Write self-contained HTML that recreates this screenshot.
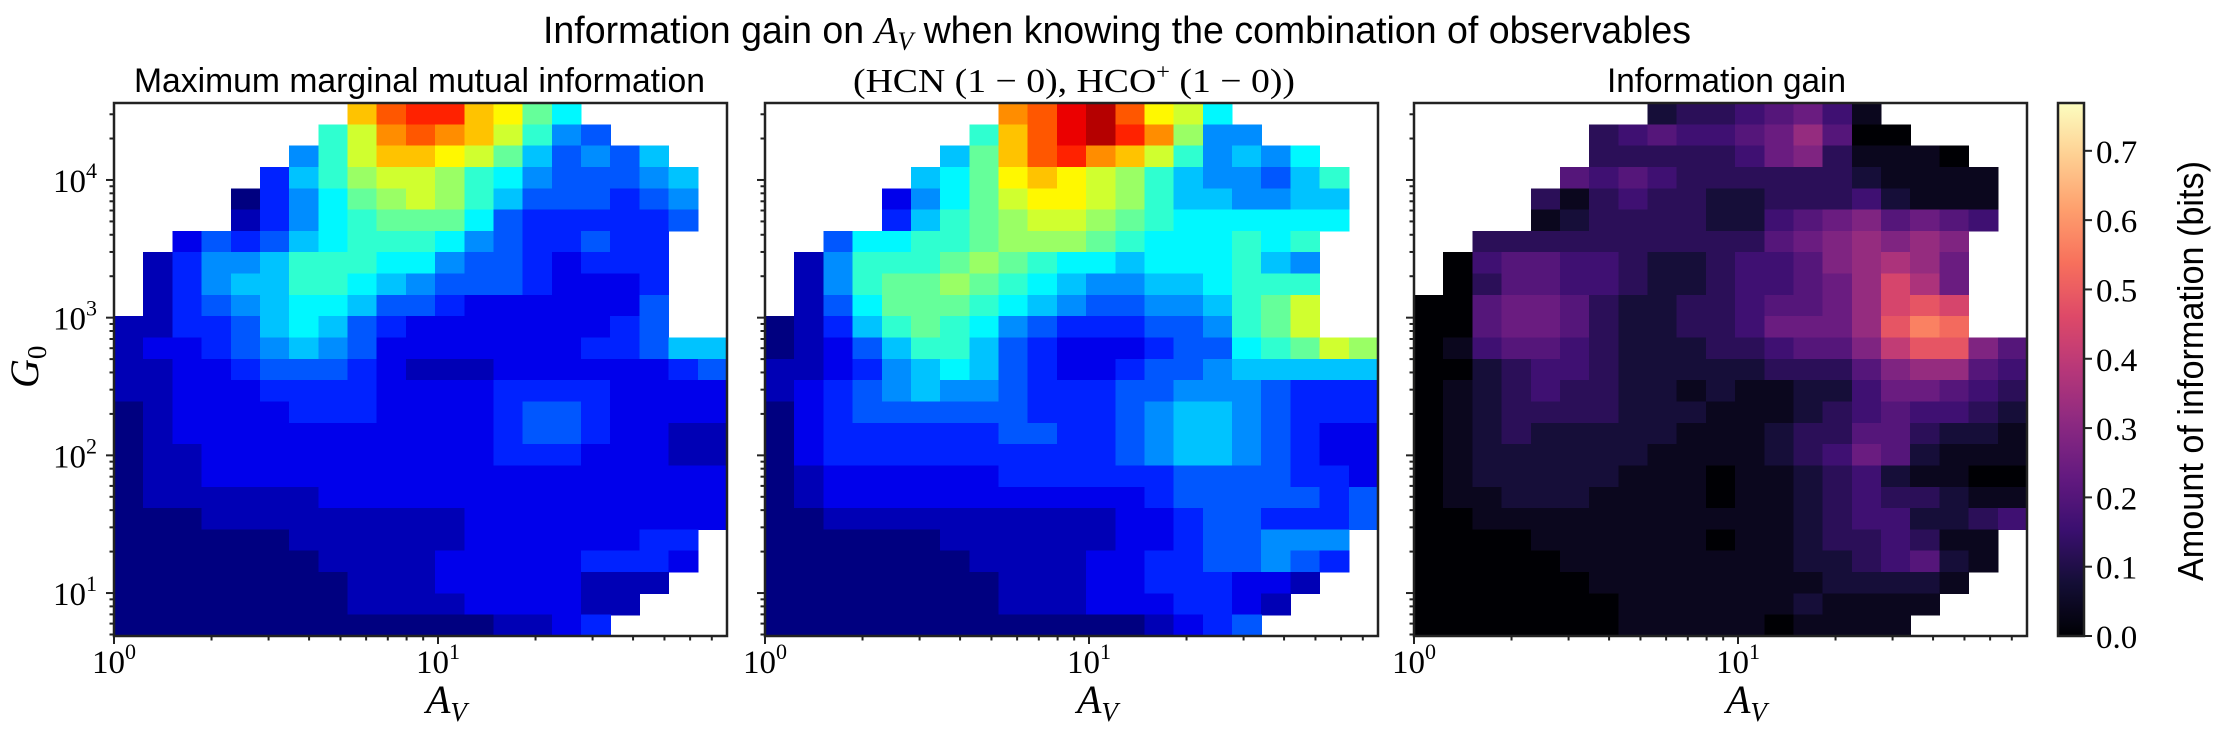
<!DOCTYPE html>
<html><head><meta charset="utf-8"><title>Information gain on A_V</title>
<style>
html,body{margin:0;padding:0;background:#fff;}
svg{display:block;}
.sans{font-family:"Liberation Sans",sans-serif;}
.serif{font-family:"Liberation Serif",serif;}
</style></head>
<body>
<svg id="fig" width="2224" height="737" viewBox="0 0 2224 737" xmlns="http://www.w3.org/2000/svg">
  <rect x="0" y="0" width="2224" height="737" fill="#fff"/>
  <text class="sans" x="543" y="43" font-size="38" textLength="1148" lengthAdjust="spacingAndGlyphs">Information gain on <tspan class="serif" font-style="italic">A</tspan><tspan class="serif" font-style="italic" font-size="26" dy="7">V</tspan><tspan dy="-7"> when knowing the combination of observables</tspan></text>
  <text class="sans" x="134" y="92" font-size="34" textLength="571" lengthAdjust="spacingAndGlyphs">Maximum marginal mutual information</text>
  <text class="serif" x="853" y="92" font-size="34" textLength="442" lengthAdjust="spacingAndGlyphs">(HCN (1 − 0), HCO<tspan font-size="22" dy="-13">+</tspan><tspan dy="13"> (1 − 0))</tspan></text>
  <text class="sans" x="1607" y="92" font-size="34" textLength="239" lengthAdjust="spacingAndGlyphs">Information gain</text>
  <g id="panels"></g>
  <g id="cbar"></g>
</svg>
<script>
// ---- data: value grids (21 columns x 25 rows, top row = highest G0). '.' = no data.
// Characters 0..J encode a level 0..19 (fraction of colour-scale = level/19).
const levelChars = "0123456789ABCDEFGHIJ";
const xTickLabels = ["0","1"];
const yTickLabels = ["1","2","3","4"];
const cbarTicks = [0.0,0.1,0.2,0.3,0.4,0.5,0.6,0.7];
const cbarMax = 0.769;
const logAvMin = 0, logAvMax = 1.892;
const logG0Min = 0.688, logG0Max = 4.559;

const mmiGrid = [
"........DFGGDC97.....",
".......8BEFEDB854....",
"......58BDDCB964546..",
".....368ABBA87544456.",
"....03579ABA86444345.",
"....1357899974333334.",
"..24346788875433433..",
".135568887754432333..",
".135668876544432223..",
".134567764432222224..",
"1133467643222222234..",
"122345654222222233466",
"112234443211122222234",
"112223333222233332222",
"012222333222234432222",
"012222222222234432211",
"011222222222233322211",
"011222222222222222222",
"011111122222222222222",
"000111111111222222222",
"00000011111122222233.",
"00000001111222223332.",
"0000000011122222111..",
"000000001111222211...",
"00000000000001123...."
];
const pairGrid = [
"........EFHIFCB7.....",
".......8DFHIGEA55....",
"......69DFGEDB85657..",
".....679CDCBA8655468.",
"....2579BCCBA8665566.",
"....3689ABBA98777777.",
"..477889AAA98777878..",
".158889A98776777865..",
".15899A987655667888..",
".14799987654455689B..",
"013689875433344589B..",
"0124688643222344789BA",
"112356764322344566666",
"123456554333445554333",
"023444444333456654333",
"023333334433456654322",
"023333333333456654322",
"012222223333334444332",
"012222222222234444434",
"001111111111223443334",
"00000011111122344555.",
"00000001111223344543.",
"0000000011122333221..",
"000000001112223321...",
"00000000000001234...."
];
const gainGrid = [
"........23345641.....",
"......34544568500....",
"......3333346731110..",
".....545433333321111.",
"....3134332233342111.",
"....1233332245675654.",
"..33333333335678787..",
".045544322344578986..",
".035544322344568B96..",
"0056653223345568BCB..",
"0056653223346668CED..",
"0145543222334557ACC75",
"002344322222333578854",
"012343322121122466543",
"012333322211123454432",
"012322222111233553221",
"012222221111234652111",
"012222211101123421100",
"011222111101123433211",
"001111111111123442234",
"00001111110112334311.",
"00000111111112234521.",
"0000001111111122221..",
"000000011111121111...",
"00000001111101111...."
];

// ---- colour maps
function clamp(v){return Math.max(0,Math.min(1,v));}
function jet(t){
  const r=clamp(1.5-Math.abs(4*t-3)), g=clamp(1.5-Math.abs(4*t-2)), b=clamp(1.5-Math.abs(4*t-1));
  return `rgb(${Math.round(r*255)},${Math.round(g*255)},${Math.round(b*255)})`;
}
const magmaStops=[[0,0,4],[20,14,54],[59,15,112],[100,26,128],[140,41,129],[183,55,121],[222,73,104],[247,112,92],[254,159,109],[254,207,146],[252,253,191]];
function magma(t){
  t=clamp(t)*10; const i=Math.min(9,Math.floor(t)), f=t-i;
  const a=magmaStops[i], b=magmaStops[i+1];
  return `rgb(${Math.round(a[0]+(b[0]-a[0])*f)},${Math.round(a[1]+(b[1]-a[1])*f)},${Math.round(a[2]+(b[2]-a[2])*f)})`;
}

const NS="http://www.w3.org/2000/svg";
function mk(tag,attrs,parent){const e=document.createElementNS(NS,tag);for(const k in attrs)e.setAttribute(k,attrs[k]);if(parent)parent.appendChild(e);return e;}

const panelTop=103, panelBottom=636;
const panels=[
  {left:114,right:727,grid:mmiGrid,cmap:jet,name:"mmi",ylabels:true},
  {left:765,right:1378,grid:pairGrid,cmap:jet,name:"pair",ylabels:false},
  {left:1414,right:2027,grid:gainGrid,cmap:magma,name:"gain",ylabels:false}
];
const root=document.getElementById('panels');

panels.forEach(p=>{
  const xs=v=>p.left+(v-logAvMin)/(logAvMax-logAvMin)*(p.right-p.left);
  const ys=v=>panelBottom-(v-logG0Min)/(logG0Max-logG0Min)*(panelBottom-panelTop);
  const g=mk('g',{},root);
  
  
  const heat=mk('g',{'shape-rendering':'crispEdges'},g);
  
  
  const nR=p.grid.length, nC=p.grid[0].length;
  const dx=(logAvMax-logAvMin)/nC, dy=(logG0Max-logG0Min)/nR;
  for(let r=0;r<nR;r++){
    for(let c=0;c<nC;c++){
      const ch=p.grid[r][c]; const lv=levelChars.indexOf(ch);
      if(lv<0) continue;
      const x0=xs(logAvMin+c*dx), x1=xs(logAvMin+(c+1)*dx);
      const y0=ys(logG0Max-r*dy), y1=ys(logG0Max-(r+1)*dy);
      const cell=mk('rect',{x:x0.toFixed(2),y:y0.toFixed(2),width:(x1-x0+0.6).toFixed(2),height:(y1-y0+0.6).toFixed(2),fill:p.cmap(lv/19)},heat);
      
      
    }
  }
  const frame=mk('rect',{x:p.left,y:panelTop,width:p.right-p.left,height:panelBottom-panelTop,fill:'none',stroke:'#222','stroke-width':2.5},g);
  
  
  // x ticks
  const xt=mk('g',{stroke:'#222','stroke-width':2},g);
  
  
  for(let d=0;d<2;d++){
    for(let m=1;m<10;m++){
      const lv=d+Math.log10(m); if(lv>logAvMax) continue;
      const X=xs(lv); const len=m===1?8:4.5;
      mk('line',{x1:X,y1:panelBottom,x2:X,y2:panelBottom+len},xt);
    }
  }
  xTickLabels.forEach((e,i)=>{
    const t=mk('text',{x:xs(i),y:673,'text-anchor':'middle','font-size':33,class:'serif'},g);
    
    
    t.innerHTML='10<tspan font-size="22" dy="-14">'+e+'</tspan>';
  });
  const xl=mk('text',{x:xs(1)-12,y:713,'font-size':40,class:'serif','font-style':'italic'},g);
  
  
  xl.innerHTML='A<tspan font-size="27" dy="8">V</tspan>';
  // y ticks
  const yt=mk('g',{stroke:'#222','stroke-width':2},g);
  
  
  for(let d=0;d<5;d++){
    for(let m=1;m<10;m++){
      const lv=d+Math.log10(m); if(lv<logG0Min||lv>logG0Max) continue;
      const Y=ys(lv); const len=m===1?8:4.5;
      mk('line',{x1:p.left,y1:Y,x2:p.left-len,y2:Y},yt);
    }
  }
  if(p.ylabels){
    yTickLabels.forEach(e=>{
      const t=mk('text',{x:97,y:ys(+e)+12,'text-anchor':'end','font-size':33,class:'serif'},g);
      
      
      t.innerHTML='10<tspan font-size="22" dy="-14">'+e+'</tspan>';
    });
    const yl=mk('text',{x:0,y:0,'font-size':40,class:'serif','font-style':'italic',transform:'translate(38,388) rotate(-90)'},g);
    
    
    yl.innerHTML='G<tspan font-size="27" dy="8" font-style="normal">0</tspan>';
  }
});

// ---- colorbar
(function(){
  const cb=document.getElementById('cbar');
  
  
  const L=2058,R=2084;
  const yv=v=>panelBottom-v/cbarMax*(panelBottom-panelTop);
  const defs=mk('defs',{},cb);
  const lg=mk('linearGradient',{id:'mg',x1:0,y1:1,x2:0,y2:0},defs);
  for(let i=0;i<=40;i++){mk('stop',{offset:(i/40),'stop-color':magma(i/40)},lg);}
  const bar=mk('rect',{x:L,y:panelTop,width:R-L,height:panelBottom-panelTop,fill:'url(#mg)',stroke:'#222','stroke-width':2.5},cb);
  
  
  cbarTicks.forEach(v=>{
    const Y=yv(v);
    mk('line',{x1:R,y1:Y,x2:R+8,y2:Y,stroke:'#222','stroke-width':2},cb);
    const t=mk('text',{x:2096,y:Y+12,'font-size':33,class:'serif'},cb);
    
    
    t.textContent=v.toFixed(1);
  });
  const lab=mk('text',{x:0,y:0,'font-size':36,class:'sans','text-anchor':'middle',transform:'translate(2203,371) rotate(-90)',textLength:420,lengthAdjust:'spacingAndGlyphs'},cb);
  
  
  lab.textContent='Amount of information (bits)';
})();
</script>
</body></html>
